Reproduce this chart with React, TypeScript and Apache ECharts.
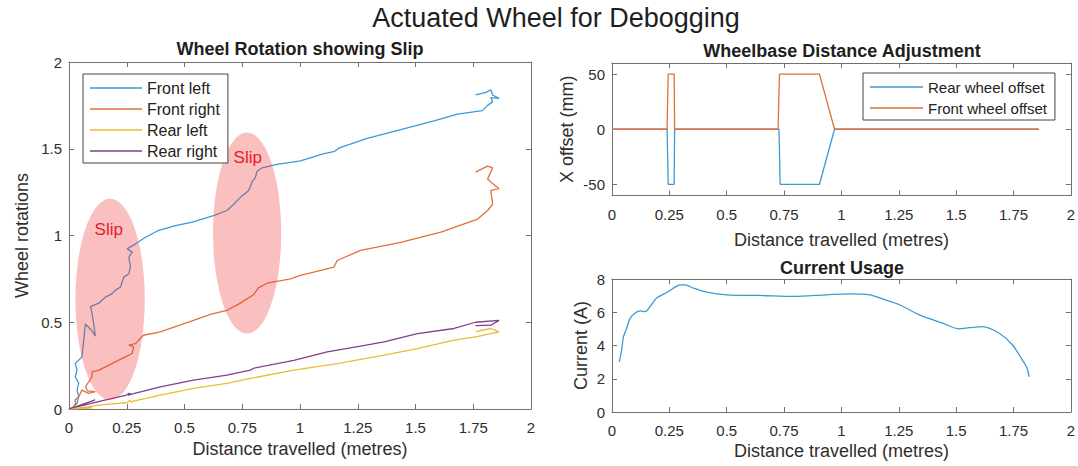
import React, { useEffect, useRef } from "react";
import * as echarts from "echarts";

const FONT = "'Liberation Sans', Arial, Helvetica, sans-serif";

// ---------- Data ----------
const xTicksMax = 2;

const frontLeft: [number, number][] = [
  [0, 0], [0.013, 0.004], [0.035, 0.033], [0.042, 0.071], [0.035, 0.109], [0.042, 0.148],
  [0.027, 0.186], [0.035, 0.224], [0.027, 0.263], [0.056, 0.3], [0.064, 0.4], [0.071, 0.49],
  [0.1, 0.45], [0.114, 0.42], [0.107, 0.49], [0.1, 0.55], [0.093, 0.59], [0.129, 0.61],
  [0.158, 0.645], [0.187, 0.665], [0.2, 0.684], [0.223, 0.703], [0.237, 0.76], [0.259, 0.78],
  [0.266, 0.82], [0.259, 0.875], [0.273, 0.904], [0.252, 0.923], [0.288, 0.952], [0.331, 0.99],
  [0.389, 1.03], [0.461, 1.057], [0.534, 1.077], [0.626, 1.115], [0.684, 1.144], [0.713, 1.18],
  [0.742, 1.22], [0.778, 1.26], [0.793, 1.31], [0.807, 1.335], [0.814, 1.37], [0.836, 1.39],
  [0.9, 1.41], [1.002, 1.43], [1.1, 1.47], [1.15, 1.485], [1.17, 1.505], [1.291, 1.56],
  [1.436, 1.61], [1.58, 1.66], [1.682, 1.7], [1.79, 1.72], [1.812, 1.75], [1.834, 1.77],
  [1.826, 1.795], [1.862, 1.79], [1.834, 1.81], [1.826, 1.84], [1.805, 1.825], [1.76, 1.81],
];

const frontRight: [number, number][] = [
  [0, 0], [0.02, 0.013], [0.03, 0.035], [0.025, 0.05], [0.042, 0.07], [0.056, 0.109],
  [0.085, 0.09], [0.114, 0.1], [0.08, 0.105], [0.071, 0.128], [0.1, 0.186], [0.1, 0.214],
  [0.129, 0.224], [0.158, 0.243], [0.2, 0.272], [0.244, 0.3], [0.273, 0.32], [0.28, 0.358],
  [0.259, 0.368], [0.288, 0.377], [0.322, 0.425], [0.395, 0.444], [0.539, 0.511], [0.612, 0.545],
  [0.684, 0.569], [0.742, 0.61], [0.8, 0.66], [0.821, 0.7], [0.858, 0.725], [0.959, 0.75],
  [1.002, 0.77], [1.147, 0.818], [1.161, 0.856], [1.262, 0.914], [1.436, 0.96], [1.61, 1.02],
  [1.769, 1.095], [1.812, 1.144], [1.834, 1.18], [1.826, 1.26], [1.862, 1.27], [1.834, 1.3],
  [1.812, 1.325], [1.834, 1.39], [1.812, 1.4], [1.76, 1.365],
];

const rearLeft: [number, number][] = [
  [0, 0], [0.1, 0.006], [0.03, 0.004], [0.15, 0.025], [0.25, 0.036], [0.265, 0.05],
  [0.27, 0.04], [0.28, 0.045], [0.395, 0.08], [0.539, 0.119], [0.684, 0.148], [0.785, 0.176],
  [0.973, 0.224], [1.161, 0.262], [1.364, 0.31], [1.508, 0.348], [1.667, 0.397], [1.76, 0.416],
  [1.862, 0.444], [1.826, 0.464], [1.76, 0.446],
];

const rearRight: [number, number][] = [
  [0, 0], [0.113, 0.052], [0.02, 0.008], [0.15, 0.05], [0.245, 0.078], [0.26, 0.09],
  [0.27, 0.085], [0.255, 0.08], [0.28, 0.088], [0.395, 0.128], [0.539, 0.167], [0.684, 0.195],
  [0.785, 0.224], [0.8, 0.235], [0.973, 0.28], [1.118, 0.329], [1.262, 0.362], [1.364, 0.387],
  [1.508, 0.435], [1.667, 0.464], [1.76, 0.5], [1.862, 0.511], [1.826, 0.483], [1.76, 0.48],
];

// slip ellipses: [centerX, centerY, radiusX, radiusY] in data units
const slipEllipses: number[][] = [
  [0.178, 0.632, 0.15, 0.58],
  [0.771, 1.014, 0.1475, 0.579],
];
const slipLabelPos: [number, number][] = [
  [0.172, 1.034],
  [0.774, 1.448],
];
const slipLabel = "Slip";

const rearOffset: [number, number][] = [
  [0, 0], [0.24, 0], [0.245, -50], [0.271, -50], [0.273, 0], [0.728, 0],
  [0.733, -50], [0.904, -50], [0.97, 0], [1.861, 0],
];
const frontOffset: [number, number][] = [
  [0, 0], [0.24, 0], [0.245, 50], [0.271, 50], [0.273, 0], [0.724, 0],
  [0.73, 50], [0.904, 50], [0.97, 0], [1.861, 0],
];
const offsetTicks = [-50, 0, 50];

const current: [number, number][] = [
  [0.032, 3.02], [0.042, 3.73], [0.05, 4.53], [0.064, 5.04], [0.079, 5.64], [0.101, 5.95],
  [0.123, 6.08], [0.145, 6.04], [0.166, 6.35], [0.195, 6.85], [0.239, 7.19], [0.268, 7.45],
  [0.297, 7.65], [0.319, 7.65], [0.355, 7.45], [0.413, 7.21], [0.5, 7.05], [0.645, 7.01],
  [0.79, 6.95], [0.935, 7.05], [1.036, 7.11], [1.123, 7.05], [1.181, 6.79], [1.253, 6.45],
  [1.34, 5.84], [1.441, 5.34], [1.514, 5.0], [1.558, 5.07], [1.616, 5.14], [1.688, 4.74],
  [1.746, 4.03], [1.789, 3.12], [1.81, 2.62], [1.818, 2.11],
];

const wheelNames = ["Front left", "Front right", "Rear left", "Rear right"];
const offsetNames = ["Rear wheel offset", "Front wheel offset"];

const C_BLUE = "#3d9ad1";
const C_ORANGE = "#e0703e";
const C_YELLOW = "#ebbb35";
const C_PURPLE = "#7f3f8f";

const AXIS_COLOR = "#707070";
const LABEL_COLOR = "#2e2e2e";

function xPair(grid: number, nameGap: number) {
  const common = {
    gridIndex: grid,
    type: "value",
    min: 0,
    max: xTicksMax,
    interval: 0.25,
    splitLine: { show: false },
    axisLine: { show: true, onZero: false, lineStyle: { color: AXIS_COLOR, width: 1 } },
    axisTick: { show: true, inside: true, length: 5, lineStyle: { color: AXIS_COLOR } },
  };
  return [
    {
      ...common,
      position: "bottom",
      name: "Distance travelled (metres)",
      nameLocation: "middle",
      nameGap,
      nameTextStyle: { fontSize: 18, color: LABEL_COLOR, fontFamily: FONT },
      axisLabel: { margin: 11, fontSize: 15, color: LABEL_COLOR, fontFamily: FONT },
    },
    { ...common, position: "top", axisLabel: { show: false } },
  ];
}

function yPair(grid: number, name: string, nameGap: number, min: number, max: number, interval: number, custom?: number[]) {
  const tick: any = { show: true, inside: true, length: 5, lineStyle: { color: AXIS_COLOR } };
  const label: any = { margin: 7, fontSize: 15, color: LABEL_COLOR, fontFamily: FONT };
  if (custom) {
    tick.customValues = custom;
    label.customValues = custom;
  }
  const common: any = {
    gridIndex: grid,
    type: "value",
    min,
    max,
    splitLine: { show: false },
    axisLine: { show: true, onZero: false, lineStyle: { color: AXIS_COLOR, width: 1 } },
    axisTick: tick,
  };
  if (!custom) common.interval = interval;
  return [
    {
      ...common,
      position: "left",
      name,
      nameLocation: "middle",
      nameGap,
      nameRotate: 90,
      nameTextStyle: { fontSize: 18, color: LABEL_COLOR, fontFamily: FONT },
      axisLabel: label,
    },
    { ...common, position: "right", axisLabel: { show: false } },
  ];
}

function lineSeries(name: string, data: [number, number][], color: string, axis: number, extra: any = {}) {
  return {
    name,
    type: "line",
    data,
    xAxisIndex: axis,
    yAxisIndex: axis,
    symbol: "none",
    showSymbol: false,
    color,
    itemStyle: { color },
    lineStyle: { color, width: 1.3 },
    z: 2,
    ...extra,
  };
}

export default function App() {
  const ref = useRef<HTMLDivElement>(null);

  useEffect(() => {
    if (!ref.current) return;
    const chart = echarts.init(ref.current, undefined, { renderer: "svg" });

    const legendCommon = {
      orient: "vertical",
      selectedMode: false,
      backgroundColor: "#ffffff",
      borderColor: "#444444",
      borderWidth: 1,
      borderRadius: 0,
      itemGap: 5,
      icon: "rect",
      itemHeight: 1.6,
      z: 10,
    };

    const option: any = {
      animation: false,
      backgroundColor: "#ffffff",
      textStyle: { fontFamily: FONT },
      grid: [
        { left: 69, top: 62, width: 462, height: 347, containLabel: false },
        { left: 612, top: 63, width: 459, height: 132.5, containLabel: false },
        { left: 612, top: 279, width: 459, height: 133, containLabel: false },
      ],
      xAxis: [...xPair(0, 22), ...xPair(1, 35), ...xPair(2, 30)],
      yAxis: [
        ...yPair(0, "Wheel rotations", 38, 0, 2, 0.5),
        ...yPair(1, "X offset (mm)", 36, -60, 60, 50, offsetTicks),
        ...yPair(2, "Current (A)", 22, 0, 8, 2),
      ],
      legend: [
        {
          ...legendCommon,
          data: wheelNames,
          left: 83,
          top: 74,
          itemWidth: 52,
          padding: [6, 8, 4, 7],
          textStyle: { fontSize: 16, color: "#222", fontFamily: FONT, lineHeight: 16 },
        },
        {
          ...legendCommon,
          data: offsetNames,
          left: 863,
          top: 73,
          itemWidth: 53,
          padding: [6, 8, 4, 7],
          textStyle: { fontSize: 15, color: "#222", fontFamily: FONT, lineHeight: 16 },
        },
      ],
      graphic: [
        {
          type: "text",
          x: 556,
          y: 18,
          style: { text: "Actuated Wheel for Debogging", fontSize: 27, fontFamily: FONT, fill: "#1e1e1e", align: "center", verticalAlign: "middle" },
        },
        {
          type: "text",
          x: 300,
          y: 49,
          style: { text: "Wheel Rotation showing Slip", fontSize: 18, fontWeight: "bold", fontFamily: FONT, fill: "#1e1e1e", align: "center", verticalAlign: "middle" },
        },
        {
          type: "text",
          x: 842,
          y: 51,
          style: { text: "Wheelbase Distance Adjustment", fontSize: 18, fontWeight: "bold", fontFamily: FONT, fill: "#1e1e1e", align: "center", verticalAlign: "middle" },
        },
        {
          type: "text",
          x: 842,
          y: 268,
          style: { text: "Current Usage", fontSize: 18, fontWeight: "bold", fontFamily: FONT, fill: "#1e1e1e", align: "center", verticalAlign: "middle" },
        },
      ],
      series: [
        lineSeries(wheelNames[0], frontLeft, C_BLUE, 0),
        lineSeries(wheelNames[1], frontRight, C_ORANGE, 0),
        lineSeries(wheelNames[2], rearLeft, C_YELLOW, 0),
        lineSeries(wheelNames[3], rearRight, C_PURPLE, 0),
        {
          type: "custom",
          xAxisIndex: 0,
          yAxisIndex: 0,
          silent: true,
          z: 5,
          data: slipEllipses,
          encode: { x: 0, y: 1 },
          renderItem: (params: any, api: any) => {
            const c = api.coord([api.value(0), api.value(1)]);
            const s = api.size([api.value(2), api.value(3)]);
            const lp = api.coord(slipLabelPos[params.dataIndex]);
            return {
              type: "group",
              children: [
                {
                  type: "ellipse",
                  shape: { cx: c[0], cy: c[1], rx: s[0], ry: s[1] },
                  style: { fill: "rgba(240,55,55,0.32)" },
                },
                {
                  type: "text",
                  x: lp[0],
                  y: lp[1],
                  style: {
                    text: slipLabel,
                    fill: "#e3202a",
                    fontSize: 17,
                    fontFamily: FONT,
                    align: "center",
                    verticalAlign: "middle",
                  },
                },
              ],
            };
          },
        },
        lineSeries(offsetNames[0], rearOffset, C_BLUE, 2),
        lineSeries(offsetNames[1], frontOffset, C_ORANGE, 2),
        lineSeries("Current", current, C_BLUE, 4, { smooth: 0.3 }),
      ],
    };

    chart.setOption(option);
    return () => {
      chart.dispose();
    };
  }, []);

  return (
    <div
      ref={ref}
      style={{ position: "fixed", left: 0, top: 0, width: 1078, height: 466, background: "#fff" }}
    />
  );
}
